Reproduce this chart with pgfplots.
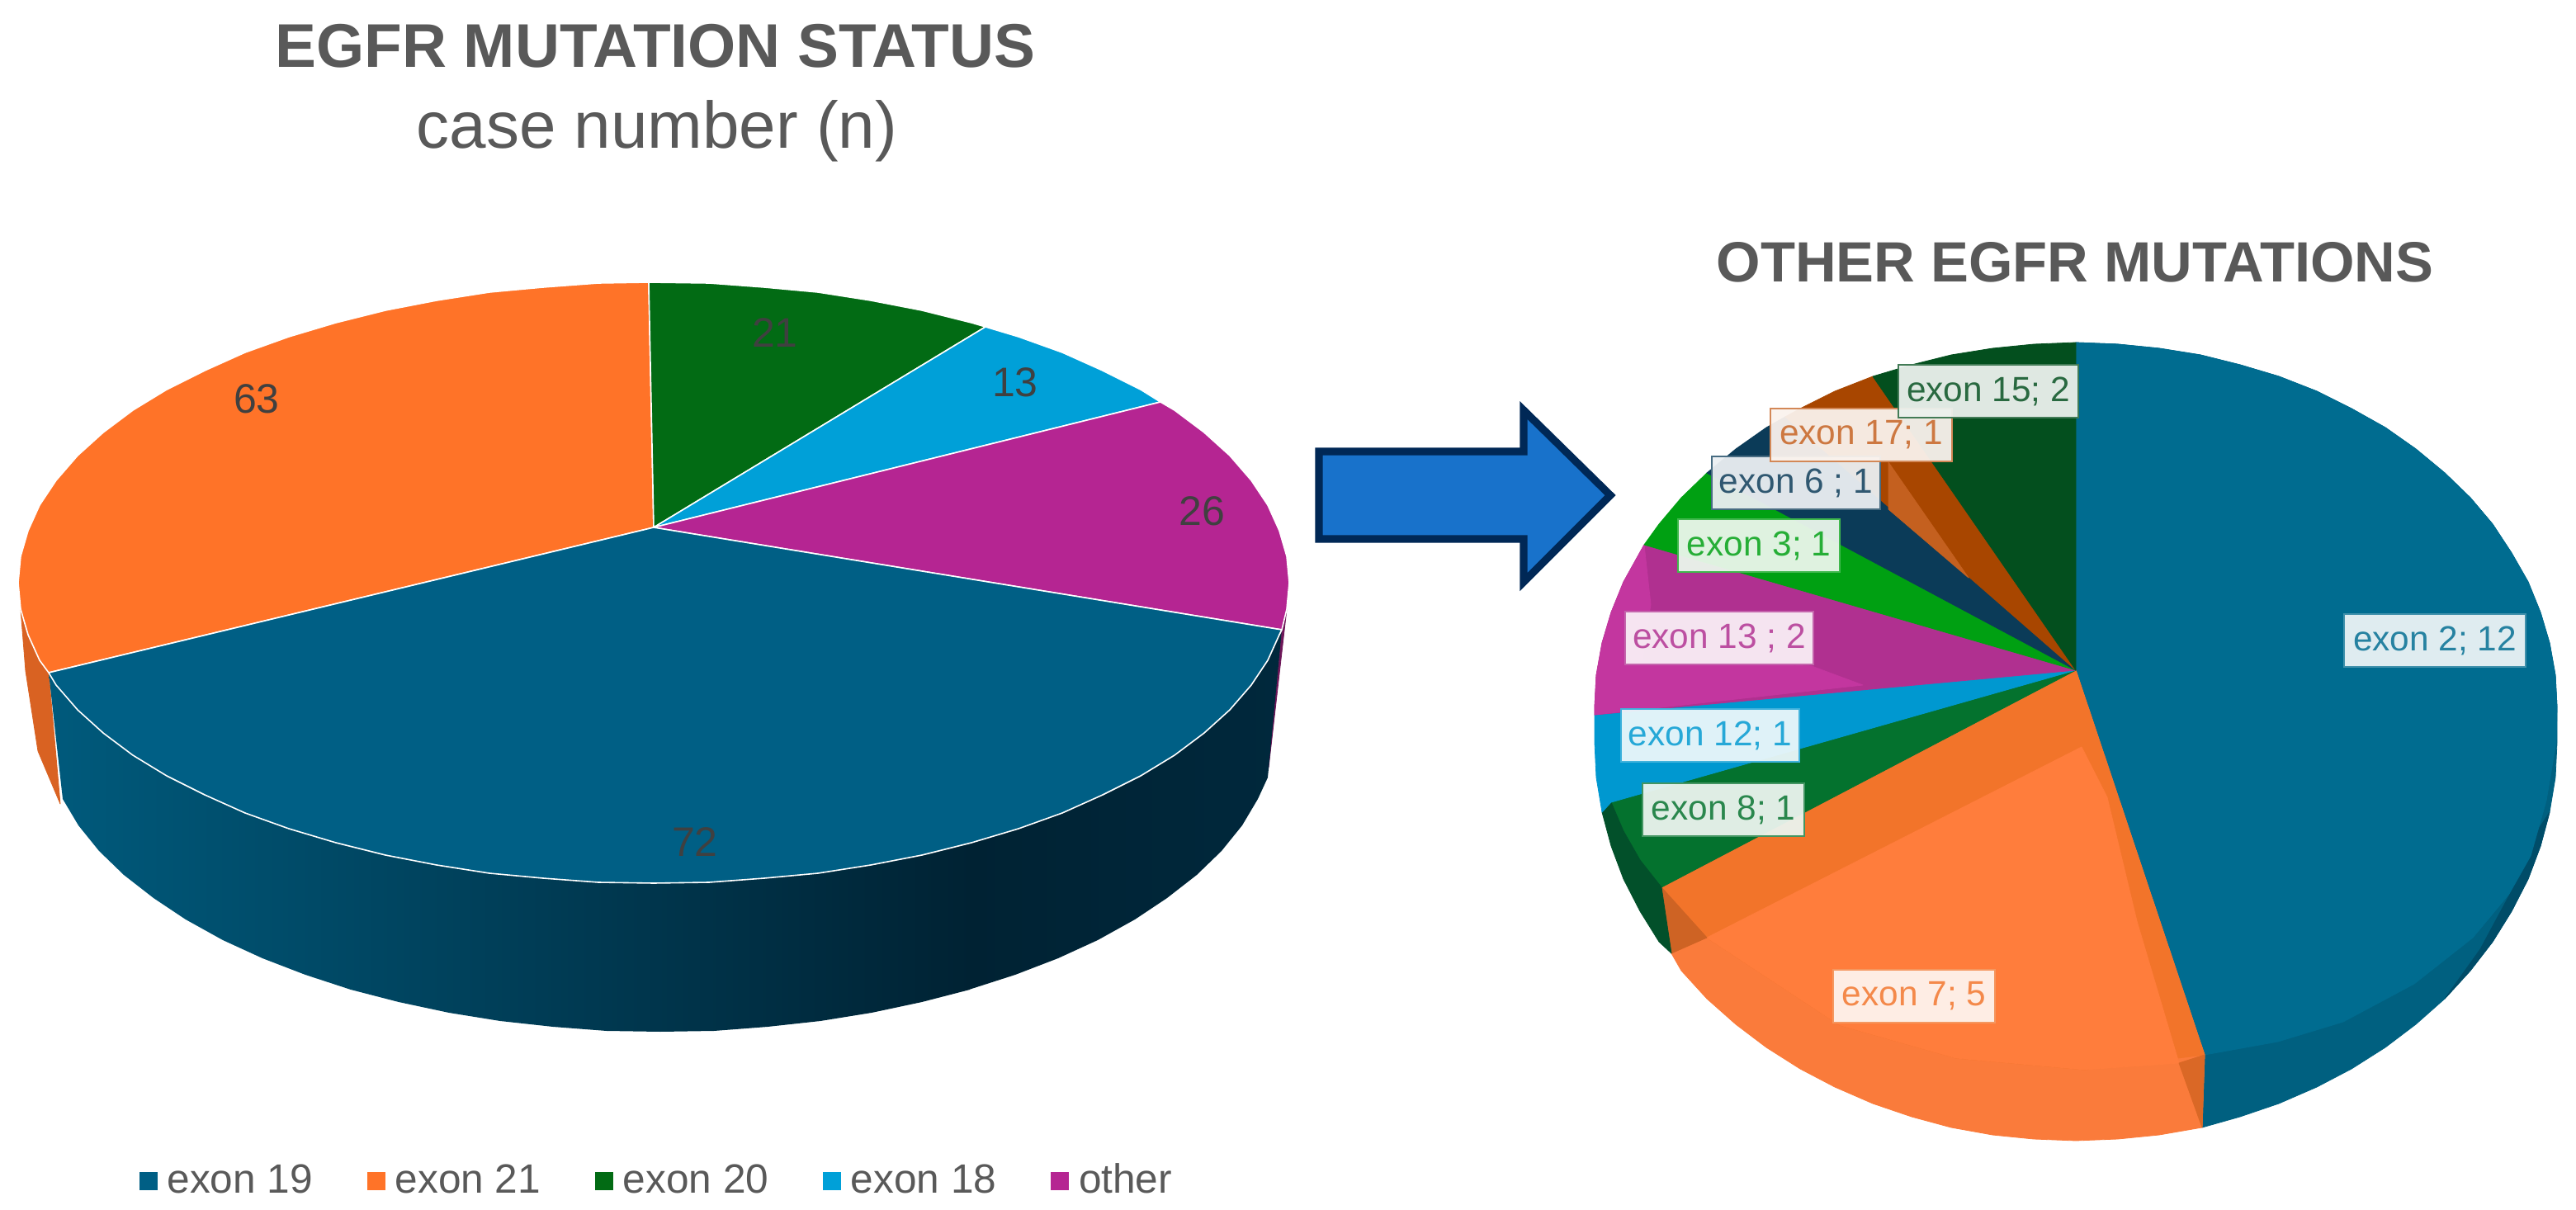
\documentclass[border=0pt]{standalone}
\usepackage{pgfplots}
\pgfplotsset{compat=1.18}
\usepackage{fontspec}
\setmainfont{Liberation Sans}
\definecolor{tealL}{HTML}{005F85}
\definecolor{oranL}{HTML}{FF7328}
\definecolor{greenL}{HTML}{026B14}
\definecolor{blueL}{HTML}{00A0D8}
\definecolor{magL}{HTML}{B52592}
\definecolor{txt}{HTML}{595959}
\definecolor{lab}{HTML}{404040}
\definecolor{tealR}{HTML}{006C90}
\definecolor{tealS}{HTML}{006080}
\definecolor{tealD}{HTML}{004C68}
\definecolor{o7}{HTML}{F2742A}
\definecolor{o7l}{HTML}{FF7D3C}
\definecolor{o7s}{HTML}{FA7B3B}
\definecolor{g8}{HTML}{04722E}
\definecolor{g8d}{HTML}{02502A}
\definecolor{b12}{HTML}{0098D0}
\definecolor{m13}{HTML}{B03090}
\definecolor{m13l}{HTML}{C3369F}
\definecolor{g3}{HTML}{00A012}
\definecolor{n6}{HTML}{0B3B58}
\definecolor{o17}{HTML}{A84600}
\definecolor{o17l}{HTML}{C4601F}
\definecolor{g15}{HTML}{034F1E}
\definecolor{arrowf}{HTML}{1872CB}
\definecolor{arrowd}{HTML}{002856}
\definecolor{sideA}{HTML}{005A7C}
\definecolor{sideB}{HTML}{002233}
\definecolor{sideC}{HTML}{00283C}
\pgfplotsset{
  sl/.style={forget plot, fill=#1, draw=white, line width=0.4pt, line join=round},
  fl/.style={forget plot, fill=#1, draw=#1, line width=0.2pt, line join=round},
}
\tikzset{
  bx/.style 2 args={fill=#1!8!white, fill opacity=0.95, text opacity=1, draw=#1!75!white, line width=0.55pt,
    text=#1!85!white, inner sep=0pt, minimum width=#2, minimum height=16pt, font=\fontsize{10.6}{12}\selectfont},
  vl/.style={text=lab, font=\fontsize{12.5}{14}\selectfont, inner sep=0pt}
}
\begin{document}
\begin{tikzpicture}
\begin{axis}[
  hide axis, scale only axis, width=780.25pt, height=366.5pt,
  xmin=0, xmax=3121, ymin=0, ymax=1466, y dir=reverse, clip=false,
  legend style={at={(axis cs:169,1431)}, anchor=west, draw=none, fill=none, inner sep=0pt, outer sep=0pt,
    font=\fontsize{12.4}{14}\selectfont, text=txt,
    /tikz/every odd column/.append style={column sep=1pt},
    /tikz/every even column/.append style={column sep=14.5pt}},
  legend columns=5,
  legend image code/.code={\fill[#1] (0pt,-2.6pt) rectangle (5pt,2.6pt);},
  legend cell align=left,
]
\addlegendimage{tealL}\addlegendentry{exon 19}
\addlegendimage{oranL}\addlegendentry{exon 21\hspace{3pt}}
\addlegendimage{greenL}\addlegendentry{exon 20}
\addlegendimage{blueL}\addlegendentry{exon 18}
\addlegendimage{magL}\addlegendentry{other}

\path (axis cs:0,0) (axis cs:3121,1466);

% ---- left pie: sides
\addplot[fl={oranL!85!black}] coordinates {(25,738)(34,769)(48,800)(59,815)(73,974)(46,910)(31,813)} -- cycle;
\addplot[fl={magL!60!black}] coordinates {(1559,738)(1553,763)(1537,930)(1545,860)} -- cycle;
\addplot[forget plot, draw=none, shade, left color=sideA, right color=sideB] coordinates {
(59,815)(68,830)(94,860)(125,888)(161,915)(202,940)(248,963)(297,985)(350,1004)(407,1021)(467,1036)(529,1048)(593,1058)(658,1064)(725,1069)(792,1070)(859,1069)(926,1064)(991,1058)(1055,1048)(1117,1036)(1177,1021)
(1175,1199)(1117,1214)(1056,1227)(994,1237)(930,1244)(865,1249)(800,1250)(735,1249)(670,1244)(606,1237)(544,1227)(483,1214)(425,1199)(370,1181)(318,1161)(270,1139)(225,1114)(186,1088)(150,1060)(120,1031)(95,1000)(76,968)} -- cycle;
\addplot[forget plot, draw=none, shade, left color=sideB, right color=sideC] coordinates {
(1174,1021)(1234,1004)(1287,985)(1336,963)(1382,940)(1423,915)(1459,888)(1490,860)(1516,830)(1536,800)(1550,769)(1553,763)
(1536,942)(1524,968)(1505,1000)(1480,1031)(1450,1060)(1414,1088)(1375,1114)(1330,1139)(1282,1161)(1230,1181)(1174,1199)} -- cycle;
% ---- left pie: top face
\addplot[sl=oranL] coordinates {(792,639)(786,342)(725,343)(658,348)(593,354)(529,364)(467,376)(407,391)(350,408)(297,427)(248,449)(202,472)(161,497)(125,524)(94,552)(68,582)(48,612)(34,643)(25,674)(22,706)(25,738)(34,769)(48,800)(59,815)} -- cycle;
\addplot[sl=greenL] coordinates {(792,639)(786,342)(859,343)(926,348)(991,354)(1055,364)(1117,376)(1177,391)(1194,396)} -- cycle;
\addplot[sl=blueL] coordinates {(792,639)(1194,396)(1234,408)(1287,427)(1336,449)(1382,472)(1406,487)} -- cycle;
\addplot[sl=magL] coordinates {(792,639)(1406,487)(1423,497)(1459,524)(1490,552)(1516,582)(1536,612)(1550,643)(1559,674)(1562,706)(1559,738)(1553,763)} -- cycle;
\addplot[sl=tealL] coordinates {(792,639)(1553,763)(1550,769)(1536,800)(1516,830)(1490,860)(1459,888)(1423,915)(1382,940)(1336,963)(1287,985)(1234,1004)(1177,1021)(1117,1036)(1055,1048)(991,1058)(926,1064)(859,1069)(792,1070)(725,1069)(658,1064)(593,1058)(529,1048)(467,1036)(407,1021)(350,1004)(297,985)(248,963)(202,940)(161,915)(125,888)(94,860)(68,830)(59,815)} -- cycle;

% ---- right pie: exon 2
\addplot[fl=tealS] coordinates {(2515,812)(2515,415)(2566,417)(2616,422)(2666,430)(2714,442)(2761,456)(2807,474)(2849,495)(2890,518)(2927,544)(2962,573)(2993,603)(3020,635)(3043,670)(3063,705)(3078,742)(3089,779)(3096,818)(3098,856)(3098,900)(3096,942)(3089,984)(3078,1025)(3063,1065)(3043,1104)(3020,1141)(2993,1176)(2962,1210)(2927,1241)(2890,1269)(2849,1295)(2807,1317)(2761,1337)(2714,1353)(2668,1366)(2671,1278)} -- cycle;
\addplot[fl=tealD] coordinates {(3089,984)(3078,1025)(3063,1065)(3043,1104)(3020,1141)(2993,1176)(2962,1210)(3005,1150)(3040,1085)(3072,1010)} -- cycle;
\addplot[fl=tealR] coordinates {(2515,812)(2515,415)(2566,417)(2616,422)(2666,430)(2714,442)(2761,456)(2807,474)(2849,495)(2890,518)(2927,544)(2962,573)(2993,603)(3020,635)(3043,670)(3063,705)(3078,742)(3089,779)(3096,818)(3098,856)(3097,899)(3085,970)(3066,1037)(3040,1083)(2996,1136)(2925,1192)(2839,1238)(2760,1262)(2671,1278)} -- cycle;
% exon 7
\addplot[fl=o7s] coordinates {(2515,812)(2671,1278)(2668,1366)(2616,1375)(2566,1380)(2515,1382)(2464,1380)(2414,1375)(2364,1366)(2316,1353)(2269,1337)(2223,1317)(2181,1295)(2140,1269)(2103,1241)(2068,1210)(2037,1176)(2025,1155)(2013,1075)} -- cycle;
\addplot[fl=o7] coordinates {(2515,812)(2671,1278)(2526,1296)(2370,1282)(2229,1242)(2068,1136)(2013,1075)} -- cycle;
\addplot[fl=o7l] coordinates {(2522,905)(2553,966)(2589,1116)(2640,1288)(2526,1296)(2370,1282)(2229,1242)(2068,1136)} -- cycle;
\addplot[fl={o7!85!black}] coordinates {(2013,1075)(2068,1136)(2025,1155)} -- cycle;
\addplot[fl={o7!90!black}] coordinates {(2640,1288)(2671,1278)(2668,1366)} -- cycle;
% exon 8
\addplot[fl=g8] coordinates {(2515,812)(2013,1075)(1987,1042)(1967,1007)(1952,972)} -- cycle;
\addplot[fl=g8d] coordinates {(1952,972)(1967,1007)(1987,1042)(2013,1075)(2025,1155)(2010,1141)(1987,1104)(1967,1065)(1952,1025)(1941,984)} -- cycle;
% exon 12
\addplot[fl=b12] coordinates {(2515,812)(1932,866)(1932,900)(1934,942)(1941,984)(1952,972)} -- cycle;
% exon 13
\addplot[fl=m13] coordinates {(2515,812)(1992,660)(1967,705)(1952,742)(1941,779)(1934,818)(1932,856)(1932,866)} -- cycle;
\addplot[fl=m13l] coordinates {(1992,660)(1967,705)(1952,742)(1941,779)(1934,818)(1932,856)(1932,866)(2257,830)(2195,807)(1990,800)(2000,732)} -- cycle;
% exon 3
\addplot[fl=g3] coordinates {(2515,812)(2068,573)(2037,603)(2010,635)(1992,660)} -- cycle;
% exon 6
\addplot[fl=n6] coordinates {(2515,812)(2163,505)(2140,518)(2103,544)(2068,573)} -- cycle;
% exon 17
\addplot[fl=o17] coordinates {(2515,812)(2269,456)(2223,474)(2181,495)(2163,505)} -- cycle;
\addplot[fl=o17l] coordinates {(2288,560)(2288,617)(2385,700)} -- cycle;
% exon 15
\addplot[fl=g15] coordinates {(2515,812)(2515,415)(2464,417)(2414,422)(2364,430)(2316,442)(2269,456)} -- cycle;

% ---- arrow
\addplot[forget plot, fill=arrowf, draw=arrowd, line width=2.3pt, miter limit=10] coordinates {(1598,547)(1846,547)(1846,497)(1951,600)(1846,705)(1846,653)(1598,653)} -- cycle;

% ---- texts
\node[text=txt, font=\bfseries\fontsize{18.7}{20}\selectfont, inner sep=0pt] at (axis cs:794,56) {EGFR MUTATION STATUS};
\node[text=txt, font=\fontsize{20}{22}\selectfont, inner sep=0pt] at (axis cs:796,159) {case number (n)};
\node[text=txt, font=\bfseries\fontsize{17.2}{19}\selectfont, inner sep=0pt] at (axis cs:2514,318) {OTHER EGFR MUTATIONS};

\node[vl] at (axis cs:939,403) {21};
\node[vl] at (axis cs:1230,463) {13};
\node[vl] at (axis cs:311,483) {63};
\node[vl] at (axis cs:1456,619) {26};
\node[vl] at (axis cs:842,1020) {72};

\node[bx={tealR}{55pt}] at (axis cs:2950,776) {exon 2; 12};
\node[bx={o7}{49pt}] at (axis cs:2319,1207) {exon 7; 5};
\node[bx={g8}{49pt}] at (axis cs:2088,981) {exon 8; 1};
\node[bx={b12}{54pt}] at (axis cs:2072,891) {exon 12; 1};
\node[bx={m13}{57pt}] at (axis cs:2083,773) {exon 13 ; 2};
\node[bx={g3}{49pt}] at (axis cs:2131,661) {exon 3; 1};
\node[bx={n6}{51pt}] at (axis cs:2176,585) {exon 6 ; 1};
\node[bx={o17l}{55pt}] at (axis cs:2255,527) {exon 17; 1};
\node[bx={g15}{54.5pt}] at (axis cs:2409,474) {exon 15; 2};
\end{axis}
\end{tikzpicture}
\end{document}
